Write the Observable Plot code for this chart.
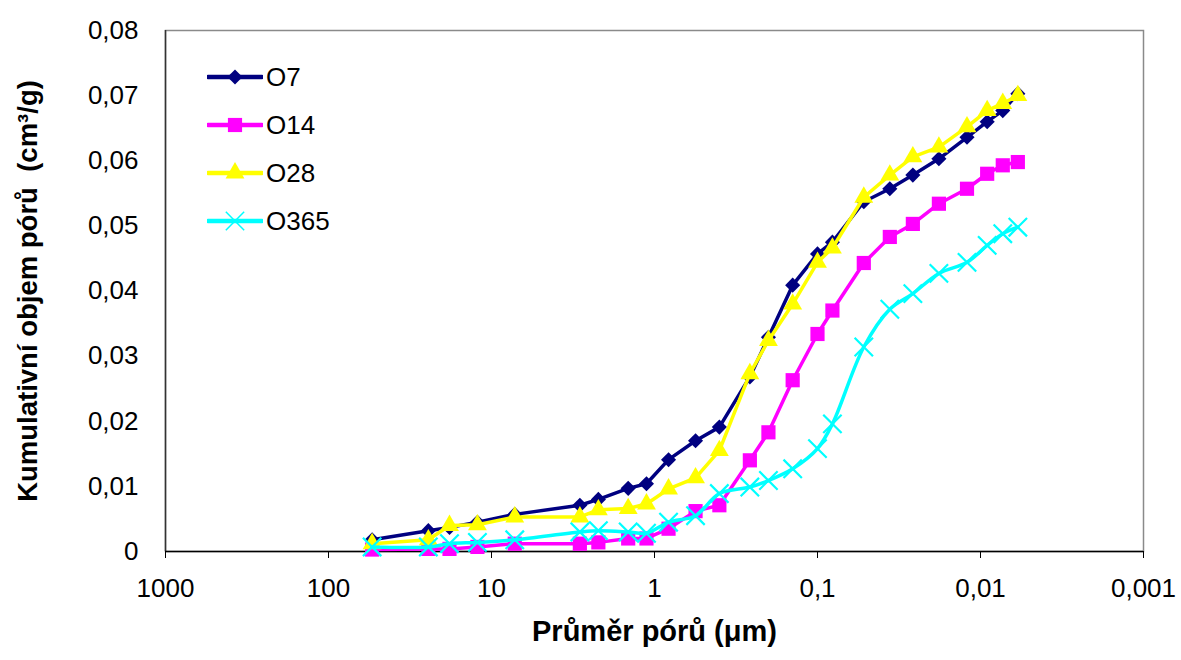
<!DOCTYPE html>
<html><head><meta charset="utf-8">
<script src="https://cdn.jsdelivr.net/npm/d3@7"></script>
<script src="https://cdn.jsdelivr.net/npm/@observablehq/plot@0.6"></script>
<style>
body{margin:0;background:#fff;}
#wrap{position:relative;width:1181px;height:660px;font-family:"Liberation Sans",Arial,sans-serif;}
#legend{position:absolute;left:207px;top:53px;}
.row{display:flex;align-items:center;height:48px;font-size:26px;color:#000;}
.row svg{margin-right:3px;}
svg text{font-family:"Liberation Sans",Arial,sans-serif;}
</style></head><body><div id="wrap"><div id="chart"></div><div id="legend"></div></div>
<script>
const diameters = [54, 24.4, 18.1, 12.2, 7.2, 2.87, 2.21, 1.45, 1.12, 0.82, 0.56, 0.40, 0.26, 0.20, 0.142, 0.10, 0.081, 0.052, 0.036, 0.026, 0.018, 0.0121, 0.0091, 0.0073, 0.0059];
const seriesNames = ["O7", "O14", "O28", "O365"];
const o7   = [0.0018,0.0032,0.0037,0.0045,0.0057,0.0071,0.0080,0.0097,0.0104,0.0141,0.0170,0.0191,0.0268,0.0329,0.0409,0.0457,0.0475,0.0537,0.0557,0.0578,0.0603,0.0636,0.0660,0.0677,0.0703];
const o14  = [0.0003,0.0004,0.0004,0.0007,0.0012,0.0012,0.0014,0.0020,0.0020,0.0035,0.0062,0.0071,0.0140,0.0183,0.0263,0.0334,0.0370,0.0443,0.0483,0.0503,0.0534,0.0557,0.0580,0.0593,0.0598];
const o28  = [0.0012,0.0018,0.0040,0.0041,0.0053,0.0053,0.0064,0.0066,0.0073,0.0096,0.0113,0.0155,0.0273,0.0324,0.0380,0.0444,0.0466,0.0544,0.0578,0.0606,0.0621,0.0652,0.0677,0.0688,0.0700];
const o365 = [0.0007,0.0007,0.0012,0.0014,0.0018,0.0030,0.0032,0.0030,0.0028,0.0045,0.0055,0.0089,0.0099,0.0109,0.0127,0.0158,0.0196,0.0314,0.0372,0.0396,0.0427,0.0444,0.0470,0.0488,0.0498];
const xTicks = [1000, 100, 10, 1, 0.1, 0.01, 0.001];
const yTicks = [0, 0.01, 0.02, 0.03, 0.04, 0.05, 0.06, 0.07, 0.08];
const xTitle = "Průměr pórů (μm)";
const yTitle = "Kumulativní objem pórů  (cm³/g)";

const colors = ["#000080", "#FF00FF", "#FFFF00", "#00FFFF"];
const symbols = ["diamond2", "square", "triangle", "times"];
const d3symbols = [d3.symbolDiamond2, d3.symbolSquare, d3.symbolTriangle, d3.symbolTimes];
const radii = [6.8, 8.0, 7.0, 8.4];
const curves = ["linear", "linear", "linear", "catmull-rom"];
const values = [o7, o14, o28, o365];

const fmt = d => String(d).replace(".", ",");

const seriesMarks = [];
seriesNames.forEach((name, i) => {
  const rows = diameters.map((d, j) => ({d, v: values[i][j]}));
  seriesMarks.push(Plot.line(rows, {x: "d", y: "v", stroke: colors[i], strokeWidth: 3.5, curve: curves[i]}));
  const isStroke = symbols[i] === "times";
  seriesMarks.push(Plot.dot(rows, {
    x: "d", y: "v", symbol: symbols[i], r: radii[i],
    fill: isStroke ? "none" : colors[i],
    stroke: isStroke ? colors[i] : "none",
    strokeWidth: isStroke ? 2.2 : 0
  }));
});

const chart = Plot.plot({
  width: 1181, height: 660,
  marginLeft: 165, marginRight: 38, marginTop: 30, marginBottom: 109,
  x: {type: "log", domain: [1000, 0.001]},
  y: {domain: [0, 0.08]},
  marks: [
    Plot.frame({stroke: "#8a8a8a", strokeWidth: 1.5}),
    Plot.ruleX([1000], {stroke: "#333", strokeWidth: 1.5}),
    Plot.ruleY([0], {stroke: "#000", strokeWidth: 1.5}),
    Plot.axisX({ticks: xTicks, tickFormat: fmt, tickSize: 7, tickPadding: 20, fontSize: 26, label: null}),
    Plot.axisY({ticks: yTicks, tickFormat: fmt, tickSize: 0, tickPadding: 27, fontSize: 26, label: null}),
    Plot.text([xTitle], {frameAnchor: "bottom", dy: 89, fontSize: 29, fontWeight: "bold"}),
    Plot.text([yTitle], {frameAnchor: "left", textAnchor: "middle", dx: -137, rotate: -90, fontSize: 27.5, fontWeight: "bold"}),
    ...seriesMarks
  ]
});
document.getElementById("chart").appendChild(chart);

const legend = d3.select("#legend");
seriesNames.forEach((name, i) => {
  const row = legend.append("div").attr("class", "row");
  const svg = row.append("svg").attr("width", 56).attr("height", 24);
  svg.append("line").attr("x1", 1).attr("x2", 55).attr("y1", 12).attr("y2", 12)
    .attr("stroke", colors[i]).attr("stroke-width", 4.5).attr("stroke-linecap", "round");
  const isStroke = symbols[i] === "times";
  svg.append("path").attr("transform", "translate(28,12)")
    .attr("d", d3.symbol(d3symbols[i], Math.PI * radii[i] * radii[i])())
    .attr("fill", isStroke ? "none" : colors[i])
    .attr("stroke", isStroke ? colors[i] : "none")
    .attr("stroke-width", 1.5);
  row.append("span").text(name);
});
</script></body></html>
